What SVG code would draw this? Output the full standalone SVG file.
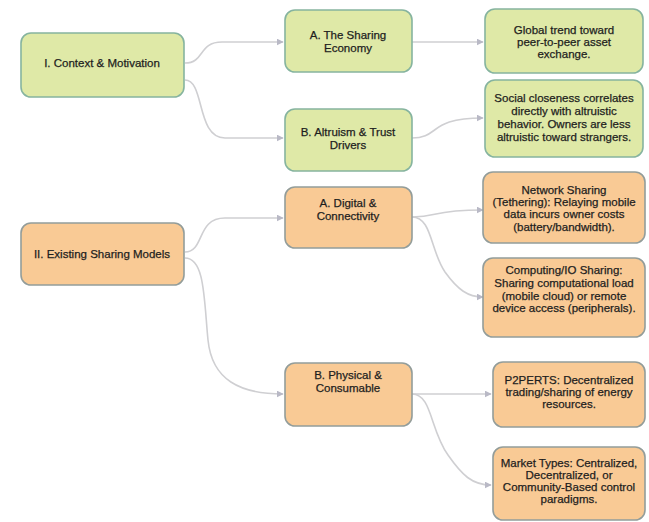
<svg xmlns="http://www.w3.org/2000/svg" width="649" height="522" viewBox="0 0 649 522">
<style>
.g{fill:#dfe9a7;stroke:#86b49f;stroke-width:1.6}
.o{fill:#f9ca95;stroke:#939d9a;stroke-width:1.6}
text{font-family:"Liberation Sans",Arial,sans-serif;font-size:11.5px;fill:#1e1e1e;stroke:#1e1e1e;stroke-width:0.25;text-anchor:middle}
.c{fill:none;stroke:#cfcfd2;stroke-width:1.6}
</style>
<defs>
<marker id="ah" viewBox="0 0 10 10" refX="9" refY="5" markerWidth="7" markerHeight="7" orient="auto" markerUnits="userSpaceOnUse">
<path d="M0,0 L10,5 L0,10 z" fill="#b9b9c6"/>
</marker>
</defs>
<rect width="649" height="522" fill="#ffffff"/>
<g id="connectors">
<path class="c" marker-end="url(#ah)" d="M185,63 C205,63 198,42 222,42 L283,42"/>
<path class="c" marker-end="url(#ah)" d="M185,80 C205,80 196,138 225,138 L283,138"/>
<path class="c" marker-end="url(#ah)" d="M412,42 L483,42"/>
<path class="c" marker-end="url(#ah)" d="M412,138 C440,138 428,118 483,118"/>
<path class="c" marker-end="url(#ah)" d="M185,252 C205,252 196,218 225,218 L283,218"/>
<path class="c" marker-end="url(#ah)" d="M185,258 C205,258 204,300 208,340 C212,380 240,394 283,394"/>
<path class="c" marker-end="url(#ah)" d="M412,217 C440,217 430,210 483,210"/>
<path class="c" marker-end="url(#ah)" d="M412,217 C432,217 430,250 445,272 C458,290 468,297 483,297"/>
<path class="c" marker-end="url(#ah)" d="M412,394 L491,394"/>
<path class="c" marker-end="url(#ah)" d="M412,394 C432,394 430,430 448,455 C462,475 472,485 491,485"/>
</g>
<g id="n1"><rect class="g" x="21" y="33" width="163" height="64" rx="10"/><text x="102" y="67">I. Context &amp; Motivation</text></g>
<g id="n1a"><rect class="g" x="285" y="10" width="127" height="62" rx="10"/><text x="348" y="39">A. The Sharing</text><text x="348" y="52">Economy</text></g>
<g id="n1b"><rect class="g" x="285" y="109" width="127" height="62" rx="10"/><text x="348" y="136">B. Altruism &amp; Trust</text><text x="348" y="149">Drivers</text></g>
<g id="n1a1"><rect class="g" x="485" y="9" width="158" height="64" rx="10"/><text x="564" y="34">Global trend toward</text><text x="564" y="46">peer-to-peer asset</text><text x="564" y="58">exchange.</text></g>
<g id="n1b1"><rect class="g" x="485" y="80" width="158" height="77" rx="10"/><text x="564" y="102">Social closeness correlates</text><text x="564" y="115">directly with altruistic</text><text x="564" y="128">behavior. Owners are less</text><text x="564" y="141">altruistic toward strangers.</text></g>
<g id="n2"><rect class="o" x="21" y="223" width="163" height="62" rx="10"/><text x="102" y="258">II. Existing Sharing Models</text></g>
<g id="n2a"><rect class="o" x="285" y="187" width="127" height="61" rx="10"/><text x="348" y="207">A. Digital &amp;</text><text x="348" y="220">Connectivity</text></g>
<g id="n2b"><rect class="o" x="285" y="363" width="127" height="63" rx="10"/><text x="348" y="379">B. Physical &amp;</text><text x="348" y="392">Consumable</text></g>
<g id="n2a1"><rect class="o" x="483" y="172" width="162" height="71" rx="10"/><text x="564" y="194">Network Sharing</text><text x="564" y="206">(Tethering): Relaying mobile</text><text x="564" y="218">data incurs owner costs</text><text x="564" y="231">(battery/bandwidth).</text></g>
<g id="n2a2"><rect class="o" x="483" y="258" width="162" height="79" rx="10"/><text x="564" y="274">Computing/IO Sharing:</text><text x="564" y="287">Sharing computational load</text><text x="564" y="300">(mobile cloud) or remote</text><text x="564" y="312">device access (peripherals).</text></g>
<g id="n2b1"><rect class="o" x="493" y="362" width="152" height="65" rx="10"/><text x="569" y="384">P2PERTS: Decentralized</text><text x="569" y="396">trading/sharing of energy</text><text x="569" y="408">resources.</text></g>
<g id="n2b2"><rect class="o" x="493" y="447" width="152" height="73" rx="10"/><text x="569" y="467">Market Types: Centralized,</text><text x="569" y="479">Decentralized, or</text><text x="569" y="491">Community-Based control</text><text x="569" y="503">paradigms.</text></g>
</svg>
